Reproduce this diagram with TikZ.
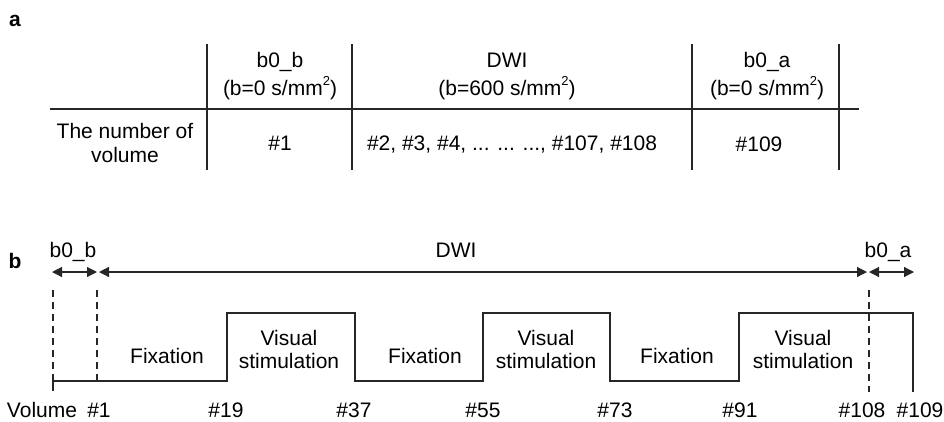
\documentclass[tikz,border=0pt]{standalone}
\usepackage{fontspec}
\setmainfont{Liberation Sans}
\usetikzlibrary{arrows.meta}
\newcommand{\sqr}{\raisebox{10pt}{\fontsize{13}{13}\selectfont 2}}
\begin{document}
\begin{tikzpicture}[x=1pt,y=-1pt,
  txt/.style={font=\fontsize{21}{24}\selectfont,inner sep=0pt,anchor=base},
  lbl/.style={font=\fontsize{21}{24}\selectfont\bfseries,inner sep=0pt,anchor=base},
  rule/.style={line width=1.2pt,draw=black!85},
  dashline/.style={line width=1.2pt,draw=black!85,dash pattern=on 7pt off 5pt},
  dim/.style={line width=1.2pt,draw=black!85,{Triangle[length=10pt,width=10pt]}-{Triangle[length=10pt,width=10pt]}}]
\useasboundingbox (0,0) rectangle (944,421);
% panel labels
\node[lbl] (la) at (15,26) {a};
\node[lbl] (lb) at (15,268) {b};
% ---- table ----
\draw[rule] (50,109) -- (859,109);
\draw[rule] (207,44) -- (207,170);
\draw[rule] (352,44) -- (352,170);
\draw[rule] (692,44) -- (692,170);
\draw[rule] (839,44) -- (839,170);
\node[txt] (h1a) at (280,67) {b0\_b};
\node[txt] (h1b) at (280,95) {(b=0 s/mm\sqr)};
\node[txt] (h2a) at (507,67) {DWI};
\node[txt] (h2b) at (507,95) {(b=600 s/mm\sqr)};
\node[txt] (h3a) at (767,67) {b0\_a};
\node[txt] (h3b) at (767,95) {(b=0 s/mm\sqr)};
\node[txt] (r0a) at (125,138) {The number of};
\node[txt] (r0b) at (125,162) {volume};
\node[txt] (r1) at (280,150) {\#1};
\node[txt] (r2) at (512,150) {\#2, \#3, \#4, ... ... ..., \#107, \#108};
\node[txt] (r3) at (759,151) {\#109};
% ---- panel b ----
\coordinate (a0) at (52,272);
\coordinate (a1) at (97,272);
\coordinate (a2) at (99,272);
\coordinate (a3) at (867,272);
\coordinate (a4) at (869,272);
\coordinate (a5) at (914,272);
\draw[dim] (a0) -- (a1);
\draw[dim] (a2) -- (a3);
\draw[dim] (a4) -- (a5);
\node[txt] (tb0b) at (73,257) {b0\_b};
\node[txt] (tdwi) at (456,257) {DWI};
\node[txt] (tb0a) at (888,257) {b0\_a};
% dashed markers
\draw[dashline] (53,290) -- (53,381);
\draw[rule] (53,381) -- (53,391);
\draw[dashline] (97,290) -- (97,381);
\draw[dashline] (869,290) -- (869,392);
% waveform
\draw[rule] (53,381) -- (227,381) -- (227,313) -- (355,313) -- (355,381)
  -- (483,381) -- (483,313) -- (610,313) -- (610,381) -- (739,381)
  -- (739,313) -- (913,313) -- (913,392);
% block labels
\node[txt] (f1) at (167,363) {Fixation};
\node[txt] (v1a) at (289,345) {Visual};
\node[txt] (v1b) at (289,368) {stimulation};
\node[txt] (f2) at (425,363) {Fixation};
\node[txt] (v2a) at (546,345) {Visual};
\node[txt] (v2b) at (546,368) {stimulation};
\node[txt] (f3) at (677,363) {Fixation};
\node[txt] (v3a) at (803,345) {Visual};
\node[txt] (v3b) at (803,368) {stimulation};
% volume labels
\node[txt] (vol) at (42,417) {Volume};
\node[txt] (n1) at (99,417) {\#1};
\node[txt] (n19) at (226,417) {\#19};
\node[txt] (n37) at (354,417) {\#37};
\node[txt] (n55) at (483,417) {\#55};
\node[txt] (n73) at (615,417) {\#73};
\node[txt] (n91) at (740,417) {\#91};
\node[txt] (n108) at (862,417) {\#108};
\node[txt] (n109) at (920,417) {\#109};
\end{tikzpicture}
\end{document}
